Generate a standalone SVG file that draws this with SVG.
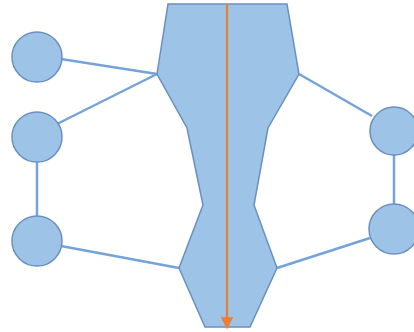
<svg xmlns="http://www.w3.org/2000/svg" width="414" height="332" viewBox="0 0 414 332">
<defs>
<style>
.node{fill:#9DC3E6;stroke:#6B8FC2;stroke-width:1.5}
.edge{fill:none;stroke:#74A3D9;stroke-width:2.5}
.flow{fill:none;stroke:#ED7D31;stroke-width:2.2}
</style>
<marker id="ah" viewBox="0 0 10 10" refX="8" refY="5" markerWidth="5.5" markerHeight="5.5" markerUnits="strokeWidth" orient="auto">
<path d="M0,0 L10,5 L0,10 Z" fill="#ED7D31"/>
</marker>
</defs>
<g id="connectors">
<line class="edge" x1="61" y1="59" x2="157" y2="74"/>
<line class="edge" x1="57" y1="124" x2="157" y2="74"/>
<line class="edge" x1="37" y1="162" x2="37" y2="216"/>
<line class="edge" x1="61" y1="246" x2="179" y2="268"/>
<line class="edge" x1="299" y1="74" x2="372" y2="116"/>
<line class="edge" x1="394" y1="155" x2="394" y2="204"/>
<line class="edge" x1="370" y1="238" x2="277" y2="268"/>
</g>
<g id="channel">
<polygon class="node" points="168,4 287,4 299,74 268,128 254,205 277,268 250,327 205,327 179,268 203,205 187,128 157,74"/>
</g>
<g id="c1"><circle class="node" cx="37" cy="57" r="25"/></g>
<g id="c2"><circle class="node" cx="37" cy="137" r="25"/></g>
<g id="c3"><circle class="node" cx="37" cy="241" r="25"/></g>
<g id="c4"><circle class="node" cx="394" cy="131" r="24"/></g>
<g id="c5"><circle class="node" cx="394" cy="229" r="25"/></g>
<g id="flow">
<line class="flow" x1="227" y1="4" x2="227" y2="327" marker-end="url(#ah)"/>
</g>
</svg>
